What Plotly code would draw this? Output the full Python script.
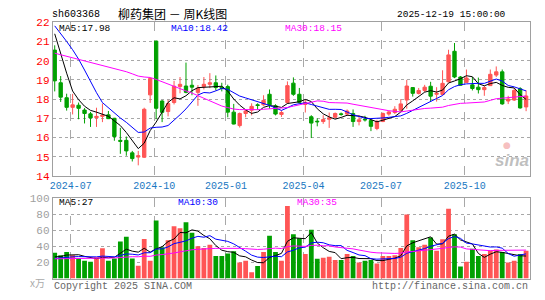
import plotly.graph_objects as go

# ---------------- data ----------------
dates = [
    "2024-06-14", "2024-06-21", "2024-06-28", "2024-07-05", "2024-07-12", "2024-07-19", "2024-07-26",
    "2024-08-02", "2024-08-09", "2024-08-16", "2024-08-23", "2024-08-30", "2024-09-06", "2024-09-13",
    "2024-09-20", "2024-09-27", "2024-09-30", "2024-10-11", "2024-10-18", "2024-10-25", "2024-11-01",
    "2024-11-08", "2024-11-15", "2024-11-22", "2024-11-29", "2024-12-06", "2024-12-13", "2024-12-20",
    "2024-12-27", "2025-01-03", "2025-01-10", "2025-01-17", "2025-01-24", "2025-01-27", "2025-02-07",
    "2025-02-14", "2025-02-21", "2025-02-28", "2025-03-07", "2025-03-14", "2025-03-21", "2025-03-28",
    "2025-04-03", "2025-04-11", "2025-04-18", "2025-04-25", "2025-04-30", "2025-05-09", "2025-05-16",
    "2025-05-23", "2025-05-30", "2025-06-06", "2025-06-13", "2025-06-20", "2025-06-27", "2025-07-04",
    "2025-07-11", "2025-07-18", "2025-07-25", "2025-08-01", "2025-08-08", "2025-08-15", "2025-08-22",
    "2025-08-29", "2025-09-05", "2025-09-12", "2025-09-19", "2025-09-26", "2025-09-30", "2025-10-10",
    "2025-10-17", "2025-10-24", "2025-10-31", "2025-11-07", "2025-11-14", "2025-11-21", "2025-11-28",
    "2025-12-05", "2025-12-12", "2025-12-19",
]

opens = [
    20.55, 18.85, 18.07, 17.57, 17.68, 17.43, 17.23, 17.03, 17.10, 17.18,
    17.00, 15.85, 15.85, 15.20, 14.98, 14.97, 18.22, 21.02, 17.90, 17.35,
    17.82, 18.65, 18.68, 18.72, 18.35, 18.65, 18.77, 18.85, 18.62, 18.65,
    17.32, 16.62, 17.25, 17.42, 17.70, 17.70, 18.25, 17.65, 17.20, 17.82,
    18.83, 18.25, 17.72, 17.08, 16.85, 16.83, 16.95, 17.05, 17.23, 17.22,
    17.25, 16.83, 16.95, 16.88, 16.47, 16.83, 17.22, 17.30, 17.42, 17.95,
    18.60, 18.29, 18.45, 18.67, 18.25, 18.24, 18.90, 20.49, 19.15, 18.87,
    18.74, 18.62, 18.49, 18.70, 19.25, 19.42, 17.90, 17.95, 18.54, 17.59,
]
highs = [
    20.80, 19.20, 18.28, 18.27, 17.82, 17.53, 17.33, 17.55, 17.77, 17.38,
    17.02, 16.50, 16.05, 15.30, 15.30, 17.55, 19.12, 21.05, 17.95, 17.96,
    18.95, 19.15, 19.90, 19.00, 18.73, 19.15, 19.35, 19.23, 18.85, 18.75,
    17.75, 17.30, 17.45, 17.78, 17.78, 18.20, 18.50, 17.73, 17.40, 18.92,
    19.13, 18.58, 17.96, 17.16, 17.00, 17.16, 17.30, 17.30, 17.30, 17.46,
    17.46, 17.16, 17.13, 16.93, 16.92, 17.30, 17.38, 17.63, 18.00, 19.00,
    18.60, 18.58, 18.74, 18.90, 18.62, 19.50, 20.57, 20.92, 19.20, 19.54,
    19.15, 19.12, 18.70, 19.54, 19.70, 19.54, 18.17, 18.57, 18.62, 18.45,
]
lows = [
    18.40, 17.85, 17.40, 17.20, 16.95, 16.73, 16.55, 16.55, 16.80, 16.96,
    15.83, 15.15, 15.05, 14.75, 14.55, 14.93, 17.80, 16.95, 16.80, 17.10,
    17.72, 18.30, 18.30, 18.20, 17.65, 18.50, 18.57, 18.45, 18.40, 17.05,
    16.68, 16.52, 17.05, 17.15, 17.45, 17.65, 17.50, 17.15, 17.07, 17.75,
    18.17, 17.76, 17.30, 15.97, 16.58, 16.71, 16.50, 17.00, 17.13, 17.13,
    16.55, 16.63, 16.83, 16.33, 16.38, 16.80, 17.13, 17.22, 17.38, 17.50,
    18.13, 18.24, 18.37, 17.87, 17.87, 18.20, 18.87, 19.09, 18.70, 18.84,
    18.45, 18.29, 18.17, 18.70, 19.15, 17.70, 17.74, 17.90, 17.50, 17.37,
]
closes = [
    18.95, 18.10, 17.57, 17.70, 17.52, 17.25, 17.02, 17.10, 17.17, 16.98,
    16.05, 15.80, 15.30, 14.90, 15.05, 17.47, 19.07, 17.52, 17.31, 17.77,
    18.67, 18.77, 18.35, 18.62, 18.57, 18.77, 18.85, 18.60, 18.55, 17.32,
    16.70, 17.25, 17.38, 17.62, 17.67, 17.93, 17.70, 17.22, 17.30, 18.70,
    18.25, 17.83, 17.83, 16.75, 16.82, 16.93, 17.02, 17.25, 17.20, 17.38,
    16.83, 16.92, 16.92, 16.58, 16.83, 17.25, 17.33, 17.47, 17.75, 18.68,
    18.30, 18.45, 18.62, 18.15, 18.30, 18.82, 20.30, 19.15, 18.72, 19.10,
    18.55, 18.49, 18.60, 19.29, 19.42, 17.75, 18.00, 18.45, 17.54, 18.16,
]
# weekly volume, unit: 万手
volumes = [
    32, 29, 33, 29, 25, 22, 21, 26.5, 37.6, 22,
    25, 46, 52, 25, 16, 49, 22, 72, 39, 47.5,
    65, 62.5, 70, 57, 40, 38, 42, 28, 28, 31,
    34, 20, 22, 8, 15.5, 33, 53, 33, 22, 90,
    55, 50, 30.5, 60.6, 24.5, 26, 27, 23, 23, 30.5,
    28, 20, 22, 23, 18.6, 28, 28, 29, 38, 79.6,
    47.5, 39, 42, 51, 34.5, 48.7, 86.7, 55, 15, 21,
    37, 28, 30.5, 35, 36, 33, 20, 22, 30.5, 34.5,
]
# weeks before the window (oldest first), estimated from where the MA lines start
prior_closes = [
    20.5, 20.2, 19.8, 19.6, 19.9, 20.1, 19.6, 19.5,
    18.9, 18.5, 18.0, 17.9, 18.2, 18.6, 18.9,
    19.8, 20.6, 21.1, 21.7, 22.17,
    22.0, 21.8, 22.0, 22.42, 22.91, 23.35, 22.57, 22.35, 19.78,
]
prior_volumes = [
    28, 22, 19, 24, 31, 26, 20, 18, 23, 27,
    30, 25, 21, 19, 26, 29, 24, 22, 25, 27,
    21, 24, 26, 22, 22, 27, 24, 28, 24,
]
month_labels = ["2024-07", "2024-10", "2025-01", "2025-04", "2025-07", "2025-10"]
price_ticks = [14, 15, 16, 17, 18, 19, 20, 21, 22]
volume_ticks = [20, 40, 60, 80, 100]
ma_periods = [5, 10, 30]
price_ma_last = ["17.98", "18.42", "18.15"]
volume_ma_last = ["27", "30", "35"]

# ---------------- styling ----------------
W, H = 545, 300
RED = "#FF5555"
GREEN = "#00A000"
MA_COLORS = ["#000000", "#0000FF", "#FF00FF"]
BORDER = "#A0A0A0"
MONO = "Liberation Mono, DejaVu Sans Mono, monospace"
CJK = "Noto Sans CJK SC, sans-serif"
NB = "\u00a0"


def moving_average(prior, values, n):
    full = list(prior) + list(values)
    k = len(prior)
    out = []
    for i in range(len(values)):
        window = full[k + i - n + 1: k + i + 1]
        out.append(sum(window) / n)
    return out


xs = list(range(len(dates)))
bar_colors = [RED if c >= o else GREEN for o, c in zip(opens, closes)]

# month grid positions: just left of the first weekly bar of each month
month_pos = []
for m in month_labels:
    idx = next(i for i, d in enumerate(dates) if d.startswith(m))
    month_pos.append(idx - 0.3)

fig = go.Figure()

fig.add_trace(go.Candlestick(
    x=xs, open=opens, high=highs, low=lows, close=closes,
    increasing=dict(line=dict(color=RED, width=1), fillcolor=RED),
    decreasing=dict(line=dict(color=GREEN, width=1), fillcolor=GREEN),
    whiskerwidth=0, xaxis="x", yaxis="y", showlegend=False,
    customdata=dates, hoverinfo="skip",
))
for n, col in zip(ma_periods, MA_COLORS):
    fig.add_trace(go.Scatter(
        x=xs, y=moving_average(prior_closes, closes, n), mode="lines",
        line=dict(color=col, width=1), xaxis="x", yaxis="y",
        showlegend=False, hoverinfo="skip",
    ))

fig.add_trace(go.Bar(
    x=xs, y=volumes, marker=dict(color=bar_colors, line=dict(width=0)),
    width=0.8, xaxis="x2", yaxis="y2", showlegend=False, hoverinfo="skip",
))
for n, col in zip(ma_periods, MA_COLORS):
    fig.add_trace(go.Scatter(
        x=xs, y=moving_average(prior_volumes, volumes, n), mode="lines",
        line=dict(color=col, width=1), xaxis="x2", yaxis="y2",
        showlegend=False, hoverinfo="skip",
    ))

x0, x1 = 50, 530
xdom = [x0 / W, x1 / W]
xrange = [-1 / 3, len(dates) - 1 + 2 / 3]
main_top, main_bot = 18, 178
vol_top, vol_bot = 201, 285

axis_common = dict(
    showline=True, mirror=True, linecolor=BORDER, linewidth=1,
    zeroline=False, ticks="", fixedrange=True,
)

fig.update_layout(
    width=W, height=H, margin=dict(l=0, r=0, t=0, b=0),
    paper_bgcolor="white", plot_bgcolor="white",
    boxgap=0.2, bargap=0.2,
    xaxis=dict(
        domain=xdom, range=xrange, anchor="y", rangeslider=dict(visible=False),
        tickmode="array", tickvals=month_pos, ticktext=month_labels,
        tickfont=dict(family=MONO, size=10, color="#1A78C2"),
        showgrid=True, gridcolor="#A8A8A8", griddash="dash", gridwidth=1,
        **axis_common,
    ),
    yaxis=dict(
        domain=[1 - main_bot / H, 1 - main_top / H], range=[14, 22], anchor="x",
        tickmode="array", tickvals=price_ticks, ticktext=[str(v) for v in price_ticks],
        tickfont=dict(family=MONO, size=11, color="#FF0000"),
        showgrid=True, gridcolor="#A8A8A8", griddash="dot", gridwidth=1,
        **axis_common,
    ),
    xaxis2=dict(
        domain=xdom, range=xrange, anchor="y2", showticklabels=False,
        tickmode="array", tickvals=month_pos,
        showgrid=True, gridcolor="#A8A8A8", griddash="dash", gridwidth=1,
        **axis_common,
    ),
    yaxis2=dict(
        domain=[1 - vol_bot / H, 1 - vol_top / H], range=[0, 100], anchor="x2",
        tickmode="array", tickvals=volume_ticks, ticktext=[str(v) for v in volume_ticks],
        tickfont=dict(family=MONO, size=11, color="#A0A0A0"),
        showgrid=True, gridcolor="#A8A8A8", griddash="dot", gridwidth=1,
        **axis_common,
    ),
)


def px_ann(text, x, y, color="#000000", size=10, family=MONO, xanchor="left"):
    fig.add_annotation(
        text=text, x=x / W, y=1 - y / H, xref="paper", yref="paper",
        xanchor=xanchor, yanchor="middle", showarrow=False,
        font=dict(family=family, size=size, color=color),
    )


# header
px_ann("sh603368", 47, 10, size=10)
px_ann(f"柳药集团{NB}－{NB}周K线图", 170, 9, size=12, family=CJK, xanchor="center")
px_ann("2025-12-19 15:00:00", 508, 10, size=9.5, xanchor="right")

# MA legends inside panels
for i, (x, col) in enumerate(zip([54, 167, 282], MA_COLORS)):
    px_ann(f"MA{ma_periods[i]}:{price_ma_last[i]}", x, 24, color=col, size=9.5)
for i, (x, col) in enumerate(zip([54, 174, 294], MA_COLORS)):
    px_ann(f"MA{ma_periods[i]}:{volume_ma_last[i]}", x, 206, color=col, size=9.5)

# footer
px_ann("x万", 35, 289, color="#AAAAAA", size=10, family=CJK, xanchor="center")
px_ann("Copyright 2025 SINA.COM", 49, 293, color="#666666", size=10)
px_ann("http://finance.sina.com.cn", 530, 293, color="#666666", size=10, xanchor="right")

# sina watermark
px_ann("<b><i>sina</i></b>", 512, 162, color="rgba(170,170,170,0.75)", size=17,
       family="Liberation Sans, Arial, sans-serif", xanchor="center")
px_ann("●", 507, 146, color="rgba(240,150,150,0.6)", size=9,
       family="DejaVu Sans, sans-serif", xanchor="center")

fig.write_html("out.html", config={"displayModeBar": False})
